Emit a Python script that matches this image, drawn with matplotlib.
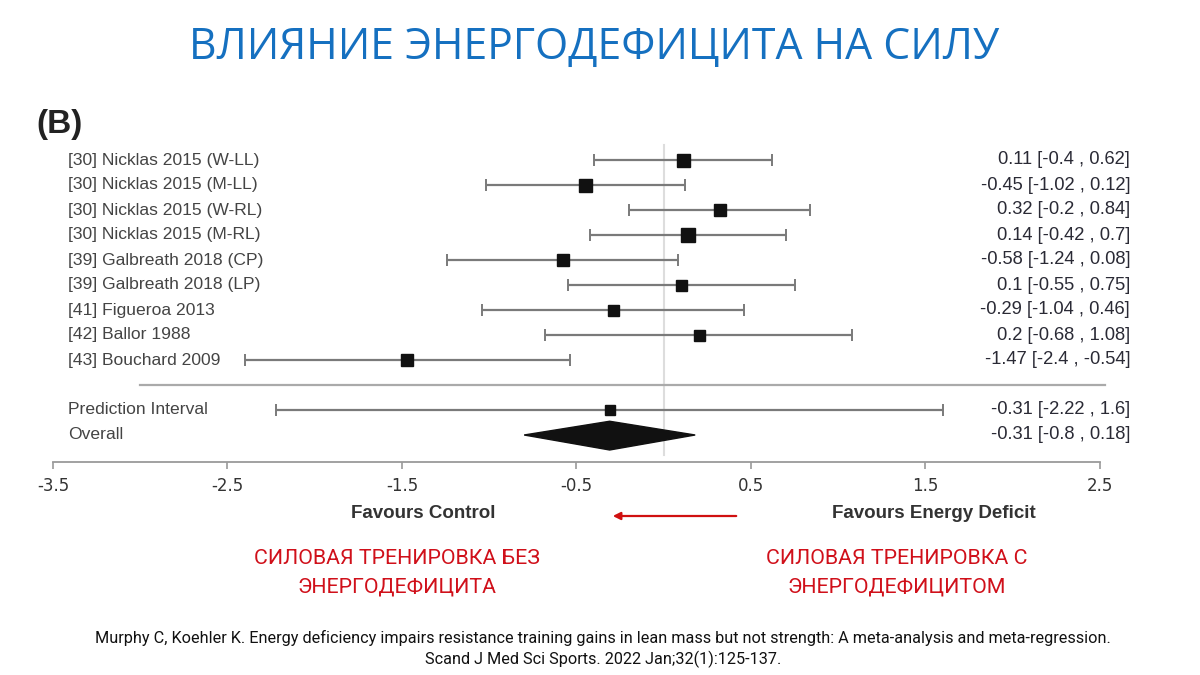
import matplotlib.pyplot as plt

# study data (effect, lower, upper)
studies = ["[30] Nicklas 2015 (W-LL)", "[30] Nicklas 2015 (M-LL)", "[30] Nicklas 2015 (W-RL)",
           "[30] Nicklas 2015 (M-RL)", "[39] Galbreath 2018 (CP)", "[39] Galbreath 2018 (LP)",
           "[41] Figueroa 2013", "[42] Ballor 1988", "[43] Bouchard 2009"]
effect = [0.11, -0.45, 0.32, 0.14, -0.58, 0.1, -0.29, 0.2, -1.47]
lower = [-0.4, -1.02, -0.2, -0.42, -1.24, -0.55, -1.04, -0.68, -2.4]
upper = [0.62, 0.12, 0.84, 0.7, 0.08, 0.75, 0.46, 1.08, -0.54]
weights = [13, 13, 12, 14, 12, 11, 11, 11, 12]  # square size px

pred_est, pred_lo, pred_hi = -0.31, -2.22, 1.6
overall_est, overall_lo, overall_hi = -0.31, -0.8, 0.18

xticks = [-3.5, -2.5, -1.5, -0.5, 0.5, 1.5, 2.5]

W, H = 1200, 675
fig = plt.figure(figsize=(12, 6.75), dpi=100)
fig.patch.set_facecolor("white")

# forest plot axes, x from -3.5 to 2.5
ax = fig.add_axes([53 / W, 1 - 462 / H, (1100 - 53) / W, (462 - 140) / H])
ax.set_xlim(-3.5, 2.5)
ax.set_ylim(12.08, -0.8)
for s in ["top", "right", "left"]:
    ax.spines[s].set_visible(False)
ax.spines["bottom"].set_color("#9a9a9a")
ax.spines["bottom"].set_linewidth(1.3)
ax.set_yticks([])
ax.set_xticks(xticks)
ax.set_xticklabels([str(t) for t in xticks])
ax.tick_params(axis="x", direction="out", length=5, width=1.2, color="#9a9a9a",
               pad=6, labelsize=12, labelcolor="#333333")

gray = "#7a7a7a"
ax.plot([0, 0], [-0.6, 11.8], color="#dddddd", lw=1.5, zorder=0)

tr = ax.get_yaxis_transform()
lblfont = ["Liberation Sans", "DejaVu Sans"]
lsize = 12.6
rsize = 13.2
for i, name in enumerate(studies):
    ax.errorbar(effect[i], i, xerr=[[effect[i] - lower[i]], [upper[i] - effect[i]]],
                fmt="none", ecolor=gray, elinewidth=1.6, capsize=4, capthick=1.4, zorder=2)
    ax.plot(effect[i], i, marker="s", ms=weights[i] * 0.72, color="#111111", zorder=3)
    ax.text(0.0143, i, name, transform=tr, ha="left", va="center", fontsize=lsize,
            color="#444444", family=lblfont)
    ax.text(1.0287, i, f"{effect[i]:g} [{lower[i]:g} , {upper[i]:g}]", transform=tr,
            ha="right", va="center", fontsize=rsize, color="#2a2a35", family=lblfont, clip_on=False)

# separator
ax.plot([0.083, 1.005], [9, 9], transform=tr, color="#aaaaaa", lw=1.6, clip_on=False)

# prediction interval
ax.errorbar(pred_est, 10, xerr=[[pred_est - pred_lo], [pred_hi - pred_est]],
            fmt="none", ecolor=gray, elinewidth=1.6, capsize=4, capthick=1.4, zorder=2)
ax.plot(pred_est, 10, marker="s", ms=7, color="#111111", zorder=3)
ax.text(0.0143, 10, "Prediction Interval", transform=tr, ha="left", va="center",
        fontsize=lsize, color="#444444", family=lblfont)
ax.text(1.0287, 10, f"{pred_est:g} [{pred_lo:g} , {pred_hi:g}]", transform=tr,
        ha="right", va="center", fontsize=rsize, color="#2a2a35", family=lblfont, clip_on=False)

# overall diamond
ax.fill([overall_lo, overall_est, overall_hi, overall_est],
        [11, 10.45, 11, 11.6], color="#111111", zorder=3)
ax.text(0.0143, 11, "Overall", transform=tr, ha="left", va="center",
        fontsize=lsize, color="#444444", family=lblfont)
ax.text(1.0287, 11, f"{overall_est:g} [{overall_lo:g} , {overall_hi:g}]", transform=tr,
        ha="right", va="center", fontsize=rsize, color="#2a2a35", family=lblfont, clip_on=False)

# figure-level texts (pixel positions)
def px(x, y):
    return x / W, 1 - y / H

fig.text(*px(594, 48), "ВЛИЯНИЕ ЭНЕРГОДЕФИЦИТА НА СИЛУ", ha="center", va="center",
         fontsize=30.8, color="#1570c0", family=["Open Sans", "DejaVu Sans"])
fig.text(*px(36, 125), "(B)", ha="left", va="center", fontsize=24, fontweight="bold",
         color="#222222", family=lblfont)

fig.text(*px(423, 513), "Favours Control", ha="center", va="center", fontsize=13.5,
         fontweight="bold", color="#333333", family=lblfont)
fig.text(*px(934, 513), "Favours Energy Deficit", ha="center", va="center", fontsize=13.5,
         fontweight="bold", color="#333333", family=lblfont)
fig.add_artist(plt.Annotation("", xy=px(610, 516), xytext=px(739, 516),
                              xycoords="figure fraction", textcoords="figure fraction",
                              arrowprops=dict(arrowstyle="-|>", color="#d01010", lw=1.6,
                                              mutation_scale=11)))

red = "#d0101a"
fig.text(*px(397, 573), "СИЛОВАЯ ТРЕНИРОВКА БЕЗ\nЭНЕРГОДЕФИЦИТА", ha="center", va="center",
         fontsize=15.4, color=red, linespacing=1.6, family=["Roboto", "DejaVu Sans"])
fig.text(*px(897, 573), "СИЛОВАЯ ТРЕНИРОВКА С\nЭНЕРГОДЕФИЦИТОМ", ha="center", va="center",
         fontsize=15.4, color=red, linespacing=1.6, family=["Roboto", "DejaVu Sans"])

fig.text(*px(603, 649),
         "Murphy C, Koehler K. Energy deficiency impairs resistance training gains in lean mass but not strength: A meta-analysis and meta-regression.\n"
         "Scand J Med Sci Sports. 2022 Jan;32(1):125-137.",
         ha="center", va="center", fontsize=11.7, color="#111111", linespacing=1.4,
         family=["Roboto", "DejaVu Sans"])

fig.savefig("out.png", dpi=100)
